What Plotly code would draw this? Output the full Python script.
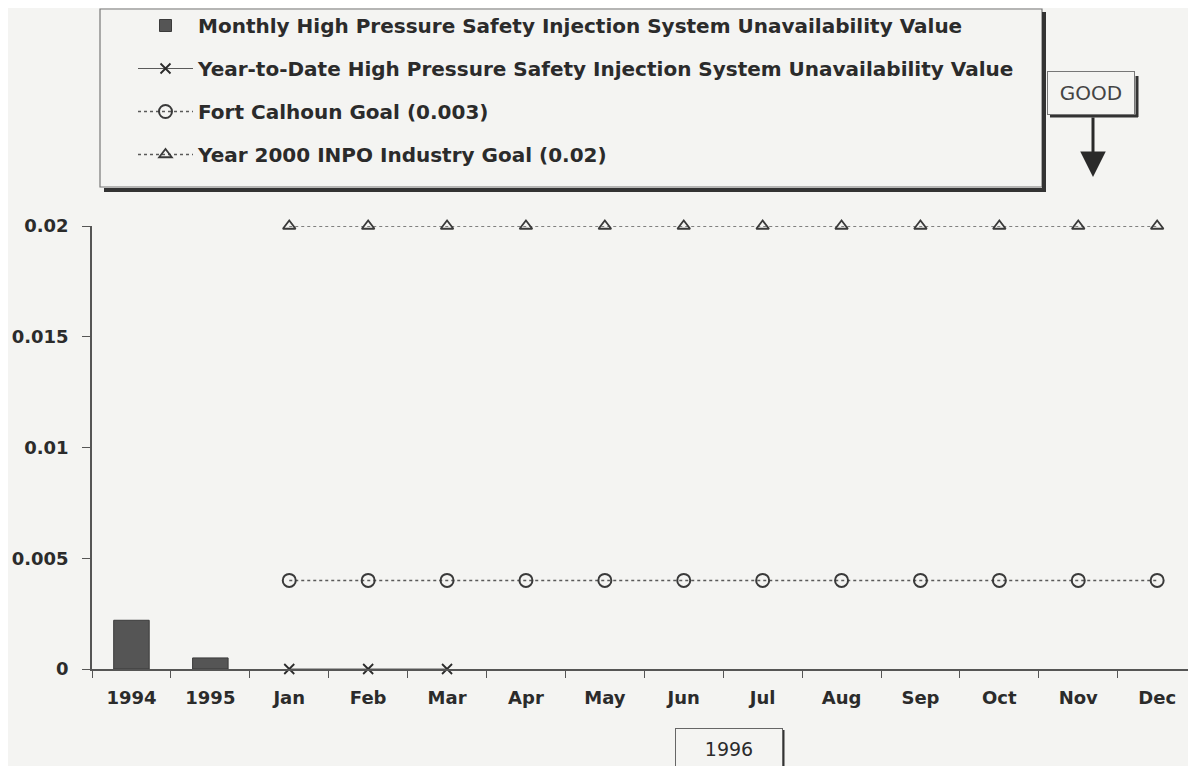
import plotly.graph_objects as go

categories = ["1994", "1995", "Jan", "Feb", "Mar", "Apr", "May", "Jun",
              "Jul", "Aug", "Sep", "Oct", "Nov", "Dec"]
monthly_values = [0.0022, 0.0005, None, None, None, None, None, None,
                  None, None, None, None, None, None]
ytd_months = ["Jan", "Feb", "Mar"]
ytd_values = [0, 0, 0]
goal_months = categories[2:]
fort_calhoun_goal = [0.004] * 12
inpo_goal = [0.02] * 12
y_ticks = [0, 0.005, 0.01, 0.015, 0.02]
y_tick_labels = ["0", "0.005", "0.01", "0.015", "0.02"]

# the page body has an 8px margin, so the figure is 16px smaller than the window
OFF = 8
W, H = 1196 - 2 * OFF, 774 - 2 * OFF
L, R, T, B = 92 - OFF, 0, 226 - OFF, H - (669 - OFF)
PW, PH = W - L - R, H - T - B
CAT_W = 78.9  # px per category in the original


def px_x(p):
    # page pixel -> paper x
    return (p - OFF - L) / PW


def px_y(p):
    # page pixel -> paper y
    return (H - B - (p - OFF)) / PH


ink = "#2b2b2b"
grey = "#5a5a5a"
bg = "#f4f4f2"
font = "DejaVu Sans, Verdana, sans-serif"

fig = go.Figure()

fig.add_trace(go.Bar(
    x=categories, y=monthly_values,
    name="Monthly High Pressure Safety Injection System Unavailability Value",
    marker=dict(color="#555555", line=dict(color="#3a3a3a", width=1)),
    width=0.45, legendgroup="a",
))
fig.add_trace(go.Scatter(
    x=ytd_months, y=ytd_values, mode="lines+markers",
    name="Year-to-Date High Pressure Safety Injection System Unavailability Value",
    line=dict(color=grey, width=1.2),
    marker=dict(symbol="x-thin", size=10, line=dict(color=ink, width=1.8)),
    cliponaxis=False, legendgroup="b",
))
fig.add_trace(go.Scatter(
    x=goal_months, y=fort_calhoun_goal, mode="lines+markers",
    name="Fort Calhoun Goal (0.003)",
    line=dict(color=grey, width=1.5, dash="dot"),
    marker=dict(symbol="circle-open", size=13, color="#3a3a3a", line=dict(width=2)),
    cliponaxis=False, legendgroup="c",
))
fig.add_trace(go.Scatter(
    x=goal_months, y=inpo_goal, mode="lines+markers",
    name="Year 2000 INPO Industry Goal (0.02)",
    line=dict(color=grey, width=1.5, dash="dot"),
    marker=dict(symbol="triangle-up-open", size=11, color="#3a3a3a", line=dict(width=1.8)),
    cliponaxis=False, legendgroup="d",
))

shadow = "#333333"
shapes = [
    # legend frame with drop shadow
    dict(type="rect", xref="paper", yref="paper",
         x0=px_x(100), x1=px_x(1042), y0=px_y(9), y1=px_y(187),
         line=dict(color="#777777", width=1.2)),
    dict(type="line", xref="paper", yref="paper",
         x0=px_x(1044), x1=px_x(1044), y0=px_y(12), y1=px_y(192),
         line=dict(color=shadow, width=4)),
    dict(type="line", xref="paper", yref="paper",
         x0=px_x(104), x1=px_x(1046), y0=px_y(190), y1=px_y(190),
         line=dict(color=shadow, width=4)),
    # GOOD box shadow
    dict(type="line", xref="paper", yref="paper",
         x0=px_x(1137), x1=px_x(1137), y0=px_y(76), y1=px_y(117),
         line=dict(color=shadow, width=3)),
    dict(type="line", xref="paper", yref="paper",
         x0=px_x(1050), x1=px_x(1138), y0=px_y(116), y1=px_y(116),
         line=dict(color=shadow, width=3)),
    # 1996 box shadow
    dict(type="line", xref="paper", yref="paper",
         x0=px_x(783), x1=px_x(783), y0=px_y(730), y1=px_y(766),
         line=dict(color=shadow, width=3)),
]

annotations = [
    dict(xref="paper", yref="paper", x=px_x(1091), y=px_y(93),
         text="GOOD", showarrow=False, font=dict(family=font, size=20, color="#444444"),
         bordercolor="#777777", borderwidth=1, borderpad=0, bgcolor=bg,
         width=86, height=42, xanchor="center", yanchor="middle"),
    dict(xref="paper", yref="paper", x=px_x(1093), y=px_y(177),
         ax=0, ay=-61, text="", showarrow=True,
         arrowhead=2, arrowsize=1.7, arrowwidth=3, arrowcolor="#2a2a2a"),
    dict(xref="paper", yref="paper", x=px_x(729), y=px_y(749),
         text="1996", showarrow=False, font=dict(family=font, size=19, color=ink),
         bordercolor="#666666", borderwidth=1, borderpad=0, bgcolor=bg,
         width=106, height=40, xanchor="center", yanchor="middle"),
]

fig.update_layout(
    width=W, height=H,
    margin=dict(l=L, r=R, t=T, b=B, autoexpand=False),
    paper_bgcolor=bg, plot_bgcolor=bg,
    font=dict(family=font, color=ink),
    showlegend=True,
    legend=dict(
        x=px_x(133), y=px_y(6), xanchor="left", yanchor="top",
        bgcolor="rgba(0,0,0,0)", borderwidth=0,
        font=dict(family=font, size=20, color=ink, weight="bold"),
        itemwidth=55, tracegroupgap=14, traceorder="grouped",
    ),
    shapes=shapes,
    annotations=annotations,
)

fig.update_xaxes(
    type="category", categoryorder="array", categoryarray=categories,
    range=[-0.5, -0.5 + PW / CAT_W], showgrid=False, zeroline=False,
    showline=True, linecolor="#555555", linewidth=1.5,
    ticks="outside", tickson="boundaries", ticklen=7, tickcolor="#555555",
    tickfont=dict(family=font, size=18, color=ink, weight="bold"),
    ticklabelstandoff=12,
)
fig.update_yaxes(
    range=[0, 0.02], tickvals=y_ticks, ticktext=y_tick_labels,
    showgrid=False, zeroline=False,
    showline=True, linecolor="#555555", linewidth=1.5,
    ticks="outside", ticklen=8, tickcolor="#555555",
    tickfont=dict(family=font, size=18, color=ink, weight="bold"),
    ticklabelstandoff=10,
)

fig.write_html("out.html")
